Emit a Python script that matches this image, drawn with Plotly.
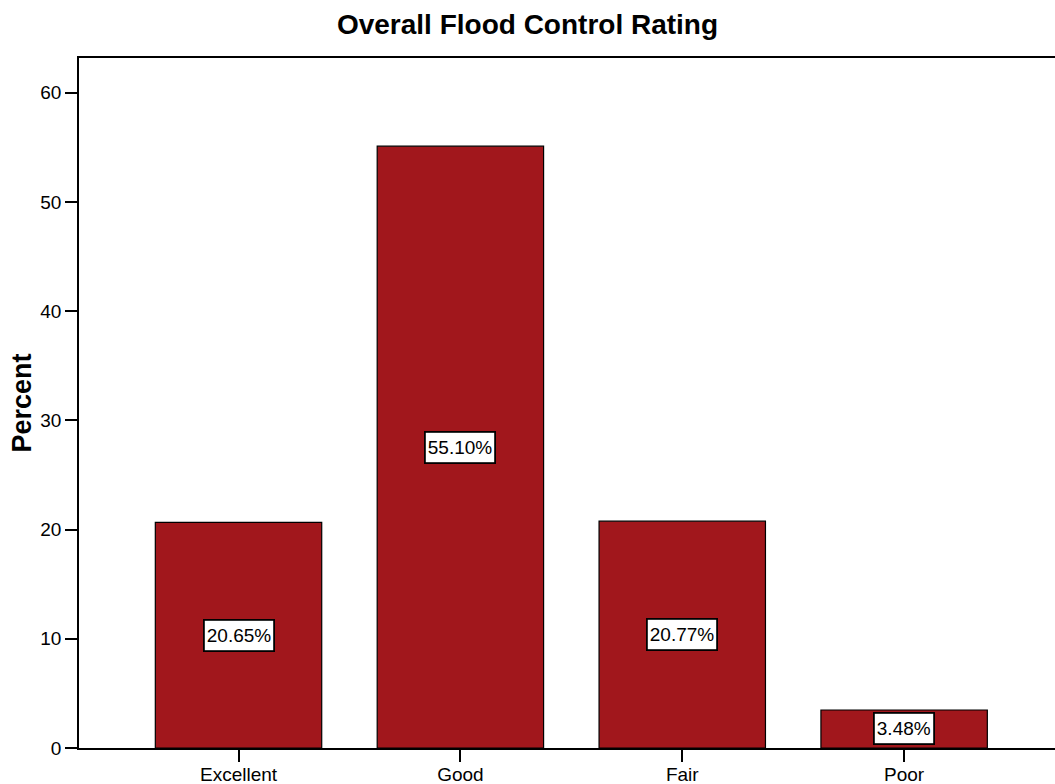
import plotly.graph_objects as go

categories = ["Excellent", "Good", "Fair", "Poor"]
percent = [20.65, 55.10, 20.77, 3.48]

bar_color = "#A1171C"
font_family = "Liberation Sans, Arial, sans-serif"

fig = go.Figure()
fig.add_trace(go.Bar(
    x=list(range(len(categories))),
    y=percent,
    width=0.75,
    marker=dict(color=bar_color, line=dict(color="black", width=1.2)),
    hoverinfo="skip",
))

# value labels centred in each bar
for i, v in enumerate(percent):
    fig.add_annotation(
        x=i, y=v / 2, text=f"{v:.2f}%", showarrow=False,
        font=dict(family=font_family, size=19, color="black"),
        bgcolor="white", bordercolor="black", borderwidth=1.8, borderpad=2,
        height=25,
    )

fig.update_layout(
    width=1055, height=784,
    margin=dict(l=79, r=0, t=58, b=36, autoexpand=False),
    paper_bgcolor="white", plot_bgcolor="white",
    showlegend=False,
    font=dict(family=font_family, size=19, color="black"),
    title=dict(
        text="<b>Overall Flood Control Rating</b>",
        x=0.5, xanchor="center", y=1 - 24 / 784, yanchor="middle",
        font=dict(family=font_family, size=28, color="black"),
    ),
    xaxis=dict(
        range=[-0.719, 3.68],
        tickmode="array",
        tickvals=list(range(len(categories))),
        ticktext=categories,
        showline=True, linecolor="black", linewidth=1.5, mirror=True,
        ticks="outside", ticklen=12, tickwidth=2, tickcolor="black",
        ticklabelstandoff=-4,
        showgrid=False, zeroline=False, automargin=False,
        tickfont=dict(size=19),
    ),
    yaxis=dict(
        range=[0, 63.17],
        tickvals=[0, 10, 20, 30, 40, 50, 60],
        showline=True, linecolor="black", linewidth=1.5,
        ticks="outside", ticklen=12, tickwidth=2, tickcolor="black",
        showgrid=False, zeroline=False, automargin=False,
        tickfont=dict(size=19),
        title=dict(text="<b>Percent</b>", font=dict(size=27), standoff=1),
    ),
)

fig.write_html("out.html")
